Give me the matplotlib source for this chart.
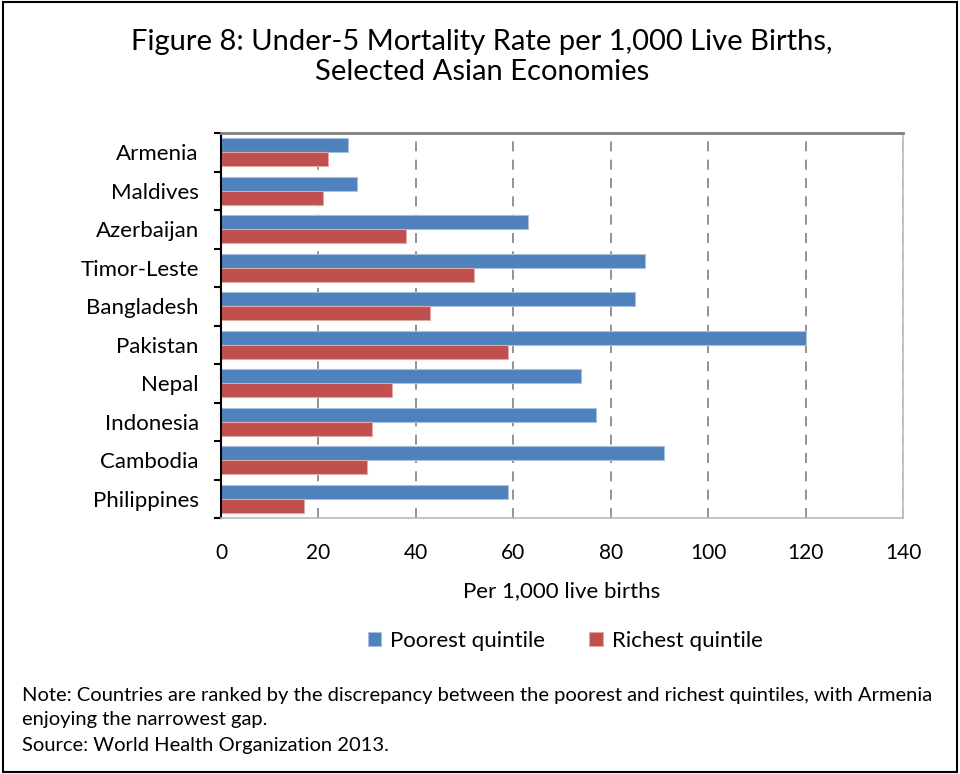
import numpy as np
import matplotlib
matplotlib.use("Agg")
import matplotlib.pyplot as plt
from matplotlib.patches import Rectangle

plt.rcParams['font.family'] = ['Lato', 'DejaVu Sans']

countries = ["Armenia", "Maldives", "Azerbaijan", "Timor-Leste", "Bangladesh",
             "Pakistan", "Nepal", "Indonesia", "Cambodia", "Philippines"]
poorest = [26, 28, 63, 87, 85, 120, 74, 77, 91, 59]
richest = [22, 21, 38, 52, 43, 59, 35, 31, 30, 17]
xticks = [0, 20, 40, 60, 80, 100, 120, 140]

blue = "#4F81BD"
red = "#C0504D"

fig = plt.figure(figsize=(9.6, 7.74), dpi=100)
ax = fig.add_axes([221/960, 1-518/774, (903-221)/960, (518-133)/774])

y = np.arange(len(countries))
h = 0.37
ax.barh(y - h/2, poorest, height=h, color=blue, edgecolor="#A7C0DE", linewidth=0.8, label="Poorest quintile")
ax.barh(y + h/2, richest, height=h, color=red, edgecolor="#E0A9A8", linewidth=0.8, label="Richest quintile")

ax.set_xlim(0, 140)
ax.set_ylim(len(countries) - 0.5, -0.5)
ax.set_xticks(xticks)
ax.set_xticklabels([str(v) for v in xticks], fontsize=15)
ax.tick_params(axis='x', length=0, pad=18)
ax.set_xlabel("Per 1,000 live births", fontsize=16, labelpad=13)

ax.set_yticks(y)
ax.set_yticklabels(countries, fontsize=16)
ax.tick_params(axis='y', which='major', length=0, pad=16)
ax.set_yticks(np.arange(-0.5, len(countries)), minor=True)
ax.tick_params(axis='y', which='minor', length=5, width=1.5, direction='out', color='black')

ax.grid(axis='x', linestyle=(0, (6, 5)), color='#808080', linewidth=1.2)
ax.set_axisbelow(True)
for s in ['top', 'right', 'bottom']:
    ax.spines[s].set_color('#BBBBBB')
    ax.spines[s].set_linewidth(1.2)
ax.spines['top'].set_color('#808080')
ax.spines['top'].set_linewidth(2)
ax.spines['left'].set_color('black')
ax.spines['left'].set_linewidth(1.5)

fig.legend(loc='center', bbox_to_anchor=(565/960, 1-641/774), ncol=2, frameon=False,
           fontsize=16, handlelength=0.6, handleheight=0.6, columnspacing=2.0, handletextpad=0.4)

fig.text(482/960, 1-57/774, "Figure 8: Under-5 Mortality Rate per 1,000 Live Births,\nSelected Asian Economies",
         ha='center', va='center', fontsize=21, linespacing=1.15)

note_size = 14.5
fig.text(22/960, 1-695/774, "Note: Countries are ranked by the discrepancy between the poorest and richest quintiles, with Armenia",
         fontsize=note_size, va='center')
fig.text(22/960, 1-719/774, "enjoying the narrowest gap.", fontsize=note_size, va='center')
fig.text(22/960, 1-745/774, "Source: World Health Organization 2013.", fontsize=note_size, va='center')

fig.patches.append(Rectangle((0.003, 0.003), 0.994, 0.994, transform=fig.transFigure,
                             fill=False, edgecolor='black', linewidth=1.5))

fig.savefig("out.png", dpi=100)
